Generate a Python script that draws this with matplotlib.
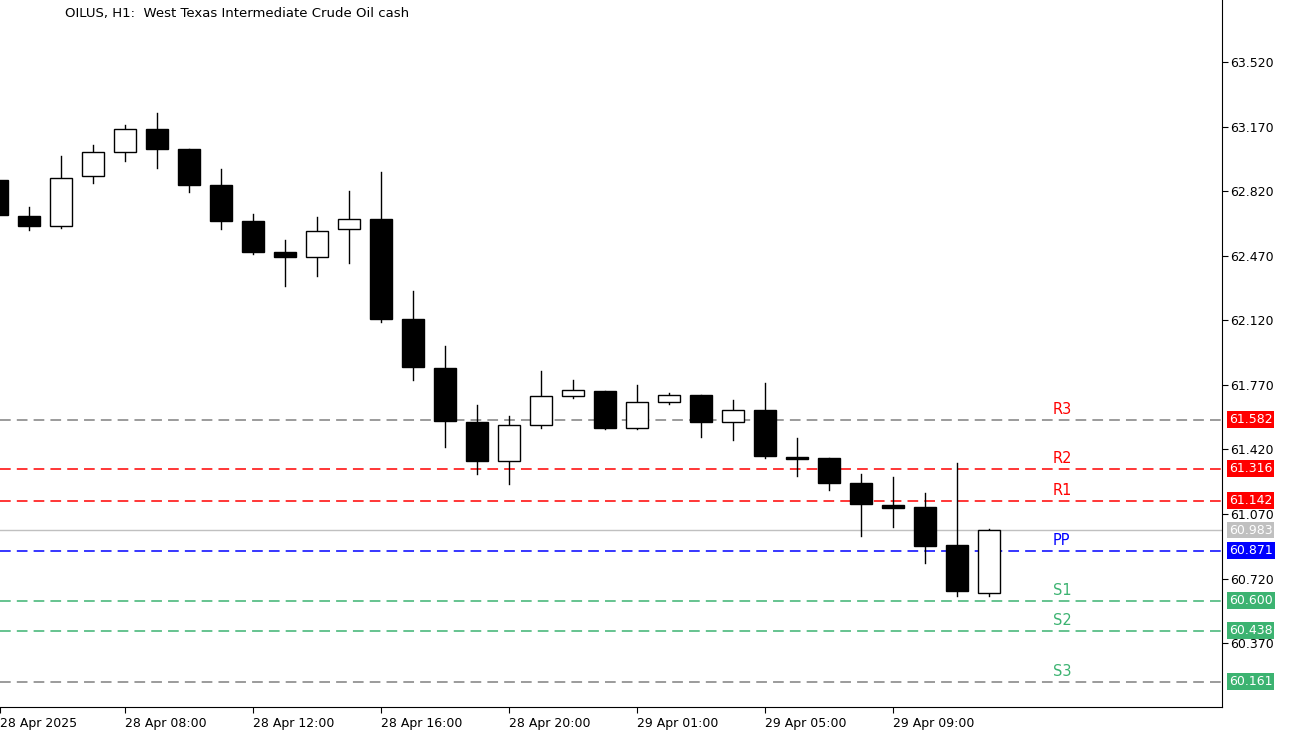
import matplotlib
matplotlib.use("Agg")
from matplotlib import pyplot as plt
from matplotlib.patches import Rectangle

# OHLC, H1 candles
opens  = [62.880, 62.685, 62.631, 62.902, 63.032, 63.157, 63.048, 62.853, 62.658, 62.490,
          62.463, 62.615, 62.669, 62.127, 61.861, 61.568, 61.357, 61.552, 61.709, 61.736,
          61.536, 61.677, 61.715, 61.568, 61.633, 61.379, 61.373, 61.238, 61.118, 61.108,
          60.902, 60.641]
closes = [62.691, 62.631, 62.891, 63.032, 63.157, 63.048, 62.853, 62.658, 62.490, 62.463,
          62.604, 62.669, 62.127, 61.867, 61.574, 61.357, 61.552, 61.709, 61.742, 61.536,
          61.677, 61.715, 61.568, 61.633, 61.384, 61.368, 61.238, 61.124, 61.102, 60.896,
          60.652, 60.983]
highs  = [62.891, 62.734, 63.010, 63.070, 63.178, 63.244, 63.048, 62.940, 62.696, 62.555,
          62.680, 62.821, 62.924, 62.279, 61.980, 61.661, 61.601, 61.845, 61.796, 61.736,
          61.769, 61.726, 61.715, 61.688, 61.780, 61.482, 61.373, 61.287, 61.270, 61.184,
          61.346, 60.988]
lows   = [62.680, 62.609, 62.620, 62.864, 62.983, 62.945, 62.815, 62.615, 62.479, 62.306,
          62.360, 62.430, 62.111, 61.796, 61.433, 61.287, 61.232, 61.536, 61.699, 61.530,
          61.530, 61.666, 61.487, 61.471, 61.373, 61.276, 61.200, 60.950, 60.999, 60.804,
          60.625, 60.625]

x_labels = ["28 Apr 2025", "28 Apr 08:00", "28 Apr 12:00", "28 Apr 16:00", "28 Apr 20:00",
            "29 Apr 01:00", "29 Apr 05:00", "29 Apr 09:00"]
x_label_pos = [0.1, 4, 8, 12, 16, 20, 24, 28]

level_names  = ["R3", "R2", "R1", "PP", "S1", "S2", "S3"]
level_values = [61.582, 61.316, 61.142, 60.871, 60.600, 60.438, 60.161]
level_line_colors = ["#808080", "#ff0000", "#ff0000", "#0000ff", "#3cb371", "#3cb371", "#808080"]
level_text_colors = ["red", "red", "red", "blue", "#3cb371", "#3cb371", "#3cb371"]
level_box_colors  = ["red", "red", "red", "blue", "#3cb371", "#3cb371", "#3cb371"]
last_price = 60.983

y_ticks = [63.520, 63.170, 62.820, 62.470, 62.120, 61.770, 61.420, 61.070, 60.720, 60.370]

fig = plt.figure(figsize=(12.93, 7.33), dpi=100)
ax = fig.add_axes([0, 1 - 707 / 733, 1222 / 1293, 707 / 733])
xmin, xmax = 0.094, 38.28
ax.set_xlim(xmin, xmax)
ax.set_ylim(60.024, 63.856)

w = 0.69
for i, (o, c, h, l) in enumerate(zip(opens, closes, highs, lows)):
    ax.plot([i, i], [l, h], color="black", lw=1, zorder=3)
    lo, hi = min(o, c), max(o, c)
    face = "white" if c > o else "black"
    ax.add_patch(Rectangle((i - w / 2, lo), w, max(hi - lo, 0.012), facecolor=face,
                           edgecolor="black", lw=1, zorder=4))

ax.plot([xmin, xmax], [last_price, last_price], color="#c0c0c0", lw=1, zorder=1)
ax.annotate(f"{last_price:.3f}", xy=(1.0, last_price), xycoords=("axes fraction", "data"),
            xytext=(5, 0), textcoords="offset points", va="center", ha="left", fontsize=9,
            color="white", bbox=dict(boxstyle="square,pad=0.15", fc="#c0c0c0", ec="none"))

for name, val, lc, tc, bc in zip(level_names, level_values, level_line_colors,
                                 level_text_colors, level_box_colors):
    ax.plot([xmin, xmax], [val, val], color=lc, lw=1.1, dashes=(7, 4), zorder=2)
    ax.text(33.0, val + 0.015, name, color=tc, fontsize=10.5, va="bottom", ha="left")
    ax.annotate(f"{val:.3f}", xy=(1.0, val), xycoords=("axes fraction", "data"),
                xytext=(5, 0), textcoords="offset points", va="center", ha="left", fontsize=9,
                color="white", bbox=dict(boxstyle="square,pad=0.15", fc=bc, ec="none"))

ax.yaxis.tick_right()
ax.set_yticks(y_ticks)
ax.set_yticklabels([f"{v:.3f}" for v in y_ticks], fontsize=9)
ax.tick_params(axis="y", length=4, pad=2)
ax.set_xticks(x_label_pos)
ax.set_xticklabels(x_labels, fontsize=9, ha="left")
ax.tick_params(axis="x", length=4, pad=3)
for s in ["top", "left"]:
    ax.spines[s].set_visible(False)

fig.text(65 / 1293, 1 - 14 / 733, "OILUS, H1:  West Texas Intermediate Crude Oil cash",
         fontsize=9.5, va="center", ha="left")

fig.savefig("out.png", dpi=100)
